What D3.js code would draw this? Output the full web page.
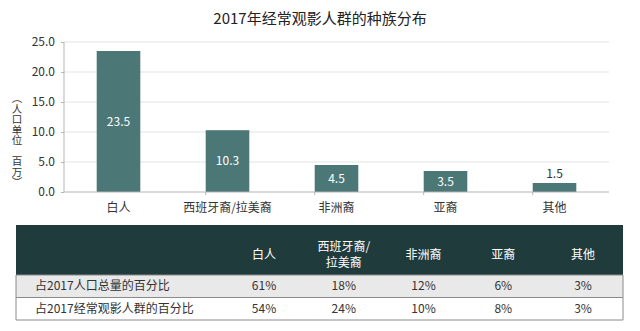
<!DOCTYPE html>
<html lang="zh">
<head>
<meta charset="UTF-8">
<title>2017年经常观影人群的种族分布</title>
<script src="https://cdn.jsdelivr.net/npm/d3@7"></script>
<style>
  body { margin: 0; background: #fff; }
  text { font-family: "Noto Sans CJK SC", Roboto, sans-serif; }
  .grid line { stroke: #e3e3e3; }
  .axis path, .axis line { stroke: #b5b5b5; }
  .axis text { fill: #333; font-size: 12px; }
</style>
</head>
<body>
<svg id="chart" width="640" height="331"></svg>
<script>
// ---- data ----
const categories = ["白人", "西班牙裔/拉美裔", "非洲裔", "亚裔", "其他"];
const headerLabels = [["白人"], ["西班牙裔/", "拉美裔"], ["非洲裔"], ["亚裔"], ["其他"]];
const audience = [23.5, 10.3, 4.5, 3.5, 1.5];
const yTicks = [0, 5, 10, 15, 20, 25];
// vertical axis title (parentheses in their vertical forms)
const yTitle = "︵人口单位　百万︶";
const rowNames = ["占2017人口总量的百分比", "占2017经常观影人群的百分比"];
const popShare = ["61%", "18%", "12%", "6%", "3%"];
const audienceShare = ["54%", "24%", "10%", "8%", "3%"];

const barColor = "#4b7777";
const headColor = "#1f3b3c";

const svg = d3.select("#chart");
const margin = {top: 42, left: 64, right: 31, bottom: 139};
const W = 640, H = 331;

// title
svg.append("text")
  .attr("x", 320).attr("y", 24)
  .attr("text-anchor", "middle")
  .attr("font-size", 15).attr("fill", "#222")
  .text("2017年经常观影人群的种族分布");

const x = d3.scaleBand()
  .domain(categories)
  .range([margin.left, W - margin.right])
  .paddingInner(0.6).paddingOuter(0.3);

const y = d3.scaleLinear()
  .domain([0, 25])
  .range([192, 42]);

// gridlines
svg.append("g").attr("class", "grid")
  .selectAll("line").data(yTicks.slice(1)).join("line")
  .attr("x1", margin.left).attr("x2", W - margin.right)
  .attr("y1", d => y(d)).attr("y2", d => y(d));

// y axis
svg.append("g").attr("class", "axis")
  .attr("transform", `translate(${margin.left},0)`)
  .call(d3.axisLeft(y).tickValues(yTicks).tickFormat(d3.format(".1f")).tickSize(3).tickPadding(6))
  .call(g => g.select(".domain").attr("d", `M0,${y(0)}V${y(25)}`));

// bars
svg.append("g").selectAll("rect").data(audience).join("rect")
  .attr("x", (d, i) => x(categories[i]))
  .attr("width", x.bandwidth())
  .attr("y", d => y(d))
  .attr("height", d => y(0) - y(d))
  .attr("fill", barColor);

// value labels
svg.append("g").selectAll("text").data(audience).join("text")
  .attr("x", (d, i) => x(categories[i]) + x.bandwidth() / 2)
  .attr("y", d => (y(0) - y(d)) > 20 ? (y(d) + y(0)) / 2 + 4 : y(d) - 5)
  .attr("text-anchor", "middle")
  .attr("font-size", 12)
  .attr("font-family", "Roboto, sans-serif")
  .attr("fill", d => (y(0) - y(d)) > 20 ? "#fff" : "#333")
  .text(d => d.toFixed(1));

// x axis with boundary ticks
const xAxis = svg.append("g").attr("class", "axis");
xAxis.append("line")
  .attr("x1", margin.left).attr("x2", W - margin.right)
  .attr("y1", y(0)).attr("y2", y(0));
const bounds = categories.map(c => x(c) + x.step() * 0.3 + x.bandwidth() + x.step() * 0.3);
xAxis.selectAll(".tk").data(bounds).join("line").attr("class", "tk")
  .attr("x1", d => d).attr("x2", d => d)
  .attr("y1", y(0)).attr("y2", y(0) + 3);
xAxis.selectAll(".cat").data(categories).join("text").attr("class", "cat")
  .attr("x", d => x(d) + x.bandwidth() / 2)
  .attr("y", 212)
  .attr("text-anchor", "middle")
  .attr("font-size", 12).attr("fill", "#222")
  .text(d => d);

// y axis title, vertical writing
svg.append("text")
  .attr("x", 17).attr("y", 93)
  .attr("font-size", 10.5).attr("fill", "#333")
  .style("writing-mode", "vertical-rl")
  .text(yTitle);

// ---- table ----
const tLeft = 16, tRight = 623, tTop = 225, headH = 50, rowH = 22.5;
const colX = d3.scalePoint().domain(categories).range([264, 583]);
const table = svg.append("g");

table.append("rect")
  .attr("x", tLeft).attr("y", tTop)
  .attr("width", tRight - tLeft).attr("height", headH)
  .attr("fill", headColor);

const rows = [popShare, audienceShare];
table.selectAll(".rowbg").data(rows).join("rect").attr("class", "rowbg")
  .attr("x", tLeft).attr("width", tRight - tLeft)
  .attr("y", (d, i) => tTop + headH + i * rowH)
  .attr("height", rowH)
  .attr("fill", (d, i) => i === 0 ? "#e9e9e9" : "#fff");

// borders
const borderYs = [tTop + headH, tTop + headH + rowH, tTop + headH + 2 * rowH];
table.selectAll(".hline").data(borderYs).join("line").attr("class", "hline")
  .attr("x1", tLeft).attr("x2", tRight)
  .attr("y1", d => d).attr("y2", d => d)
  .attr("stroke", "#8a8a8a").attr("stroke-width", 1);
[tLeft, tRight].forEach(xx => table.append("line")
  .attr("x1", xx).attr("x2", xx)
  .attr("y1", tTop + headH).attr("y2", tTop + headH + 2 * rowH)
  .attr("stroke", "#8a8a8a"));

// header labels
table.selectAll(".hd").data(headerLabels).join("text").attr("class", "hd")
  .attr("x", (d, i) => colX(categories[i]))
  .attr("y", d => d.length > 1 ? tTop + 26 : tTop + 34)
  .attr("text-anchor", "middle")
  .attr("font-size", 12).attr("fill", "#fff")
  .selectAll("tspan").data(d => d).join("tspan")
  .attr("x", function() { return this.parentNode.getAttribute("x"); })
  .attr("dy", (d, i) => i === 0 ? 0 : 16)
  .text(d => d);

// row labels and values
rows.forEach((vals, r) => {
  const ry = tTop + headH + r * rowH + rowH / 2 + 4;
  table.append("text")
    .attr("x", 35).attr("y", ry)
    .attr("font-size", 12).attr("fill", "#333")
    .text(rowNames[r]);
  table.selectAll(".v" + r).data(vals).join("text").attr("class", "v" + r)
    .attr("x", (d, i) => colX(categories[i]))
    .attr("y", ry)
    .attr("text-anchor", "middle")
    .attr("font-size", 12).attr("fill", "#333")
    .attr("font-family", "Roboto, sans-serif")
    .text(d => d);
});
</script>
</body>
</html>
